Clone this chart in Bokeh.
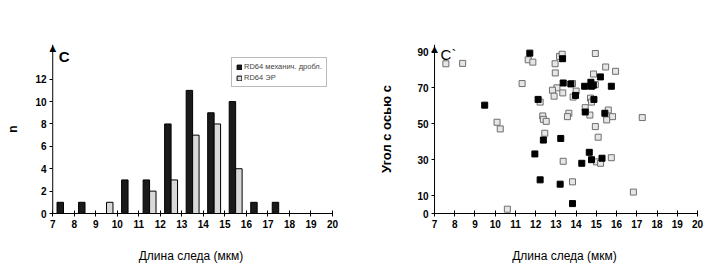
from bokeh.plotting import figure
from bokeh.layouts import row
from bokeh.models import ColumnDataSource, Range1d, FixedTicker, Label, Legend, LegendItem, Span
from bokeh.transform import dodge
from bokeh.embed import file_html
from bokeh.resources import INLINE

# ---- histogram data ----
bins_black = [7, 8, 10, 11, 12, 13, 14, 15, 16, 17]
n_black = [1, 1, 3, 3, 8, 11, 9, 10, 1, 1]
bins_gray = [9, 11, 12, 13, 14, 15]
n_gray = [1, 2, 3, 7, 8, 4]
x_ticks = list(range(7, 21))
hist_y_ticks = [0, 2, 4, 6, 8, 10, 12]

# ---- scatter data ----
black_len = [11.71, 13.33, 9.48, 12.12, 13.36, 13.74, 14.76, 13.97, 14.42, 15.2, 14.73, 14.85, 15.74,
             14.88, 14.45, 15.42, 12.38, 13.24, 11.96, 14.65, 14.76, 15.28, 14.28, 12.22, 13.21, 13.82]
black_ang = [89.1, 86.0, 60.2, 63.4, 72.5, 72.0, 70.7, 65.6, 70.7, 75.9, 72.9, 71.3, 70.7,
             63.4, 56.4, 55.7, 40.8, 41.7, 33.1, 34.0, 29.9, 30.7, 27.9, 18.7, 16.3, 5.5]
gray_len = [7.56, 8.39, 11.63, 11.86, 13.18, 13.31, 14.95, 12.96, 12.97, 15.46, 15.95, 11.33, 14.86,
            13.82, 14.95, 13.05, 12.83, 14.0, 13.34, 12.91, 13.85, 14.71, 12.22, 14.76, 14.45, 15.59,
            13.64, 13.57, 14.68, 15.8, 15.51, 17.27, 12.35, 12.38, 12.52, 10.09, 10.25, 14.95, 12.45,
            15.09, 15.74, 13.36, 15.01, 15.21, 13.82, 16.83, 10.6]
gray_ang = [83.2, 83.4, 85.4, 84.1, 87.3, 88.5, 88.9, 83.2, 78.1, 81.4, 79.0, 72.2, 77.5,
            72.2, 71.6, 69.8, 68.5, 68.0, 67.0, 65.2, 64.7, 64.1, 61.9, 61.9, 58.8, 57.5,
            55.7, 53.8, 54.7, 53.8, 52.0, 53.3, 54.2, 52.3, 51.2, 50.7, 47.0, 48.3, 44.6,
            42.4, 31.0, 29.0, 28.7, 27.9, 17.6, 11.9, 2.4]
scat_y_ticks = [0, 10, 30, 50, 70, 90]
x_min, x_max = 7, 20

FONT = "Liberation Sans"


def style_axes(p, yticks):
    for ax in (p.xaxis[0], p.yaxis[0]):
        ax.major_label_text_font = FONT
        ax.major_label_text_font_style = "bold"
        ax.major_label_text_font_size = "10px"
        ax.major_label_text_color = "black"
        ax.axis_label_text_font = FONT
        ax.axis_label_text_color = "black"
        ax.minor_tick_line_color = None
        ax.axis_line_color = "black"
        ax.major_tick_line_color = "black"
    p.xaxis.ticker = FixedTicker(ticks=x_ticks)
    p.xaxis.major_tick_in = 3
    p.xaxis.major_tick_out = 3
    p.xaxis.major_label_standoff = 3
    p.xaxis.bounds = (x_min, x_max)
    p.xaxis.axis_label_text_font_size = "12px"
    p.xaxis.axis_label_text_font_style = "normal"
    p.xaxis.axis_label_standoff = 18
    # labels at the frame edge, ticks reaching in to the axis line at x = 7
    ya = p.yaxis[0]
    ya.ticker = FixedTicker(ticks=yticks)
    ya.axis_line_color = None
    ya.major_tick_in = 3
    ya.major_tick_out = 0
    ya.major_label_standoff = 3
    ya.axis_label_text_font_style = "bold"
    p.add_layout(Span(location=x_min, dimension="height", line_color="black", line_width=1))
    p.xgrid.visible = False
    p.ygrid.visible = False
    p.outline_line_color = None


def arrow_tip(p, y):
    p.add_layout(Label(x=x_min, y=y, text="▲", text_font="DejaVu Sans", text_font_size="9px",
                       text_align="center", text_baseline="middle", text_color="black"))


# ---------- left: histogram ----------
p1 = figure(width=360, height=265, output_backend="svg", toolbar_location=None,
            x_range=Range1d(6.85, 20), y_range=Range1d(0, 15.1),
            min_border_left=49, min_border_right=28, min_border_top=44, min_border_bottom=52)
src_b = ColumnDataSource(dict(x=bins_black, n=n_black))
src_g = ColumnDataSource(dict(x=bins_gray, n=n_gray))
rb = p1.vbar(x=dodge("x", 0.35, range=p1.x_range), top="n", width=0.3, source=src_b,
             fill_color="#1a1a1a", line_color="black", line_width=1)
rg = p1.vbar(x=dodge("x", 0.65, range=p1.x_range), top="n", width=0.3, source=src_g,
             fill_color="#d9d9d9", line_color="black", line_width=1)
p1.xaxis.axis_label = "Длина следа (мкм)"
p1.yaxis.axis_label = "n"
style_axes(p1, hist_y_ticks)
p1.yaxis[0].axis_label_text_font_size = "12px"
p1.yaxis[0].axis_label_standoff = 12
arrow_tip(p1, 14.78)
p1.add_layout(Label(x=7.28, y=14.8, text="C", text_font=FONT, text_font_size="15px",
                    text_font_style="bold", text_baseline="top", text_color="black"))
legend = Legend(items=[LegendItem(label="RD64 механич. дробл.", renderers=[rb]),
                       LegendItem(label="RD64 ЭР", renderers=[rg])],
                location=(182, 126), orientation="vertical")
legend.label_text_font = FONT
legend.label_text_font_size = "7.5px"
legend.label_height = 7
legend.glyph_height = 6
legend.glyph_width = 6
legend.spacing = 2
legend.padding = 4
legend.margin = 0
legend.label_standoff = 2
legend.border_line_color = "#777777"
legend.border_line_width = 1
legend.background_fill_alpha = 1
p1.add_layout(legend)

# ---------- right: scatter ----------
p2 = figure(width=345, height=265, output_backend="svg", toolbar_location=None,
            x_range=Range1d(6.85, 20), y_range=Range1d(0, 93.9),
            min_border_left=71, min_border_right=8, min_border_top=43, min_border_bottom=52)
p2.scatter(gray_len, gray_ang, marker="square", size=6, fill_color="#e6e6e6", line_color="#6e6e6e", line_width=1)
p2.scatter(black_len, black_ang, marker="square", size=6, fill_color="black", line_color="black")
p2.xaxis.axis_label = "Длина следа (мкм)"
p2.yaxis.axis_label = "Угол с осью с"
style_axes(p2, scat_y_ticks)
p2.yaxis[0].axis_label_text_font_size = "13px"
p2.yaxis[0].axis_label_standoff = 20
arrow_tip(p2, 91.5)
p2.add_layout(Label(x=7.3, y=93.0, text="C`", text_font=FONT, text_font_size="15px",
                    text_font_style="normal", text_baseline="top", text_color="black"))

layout = row(p1, p2)
open("out.html", "w").write(file_html(layout, INLINE))
